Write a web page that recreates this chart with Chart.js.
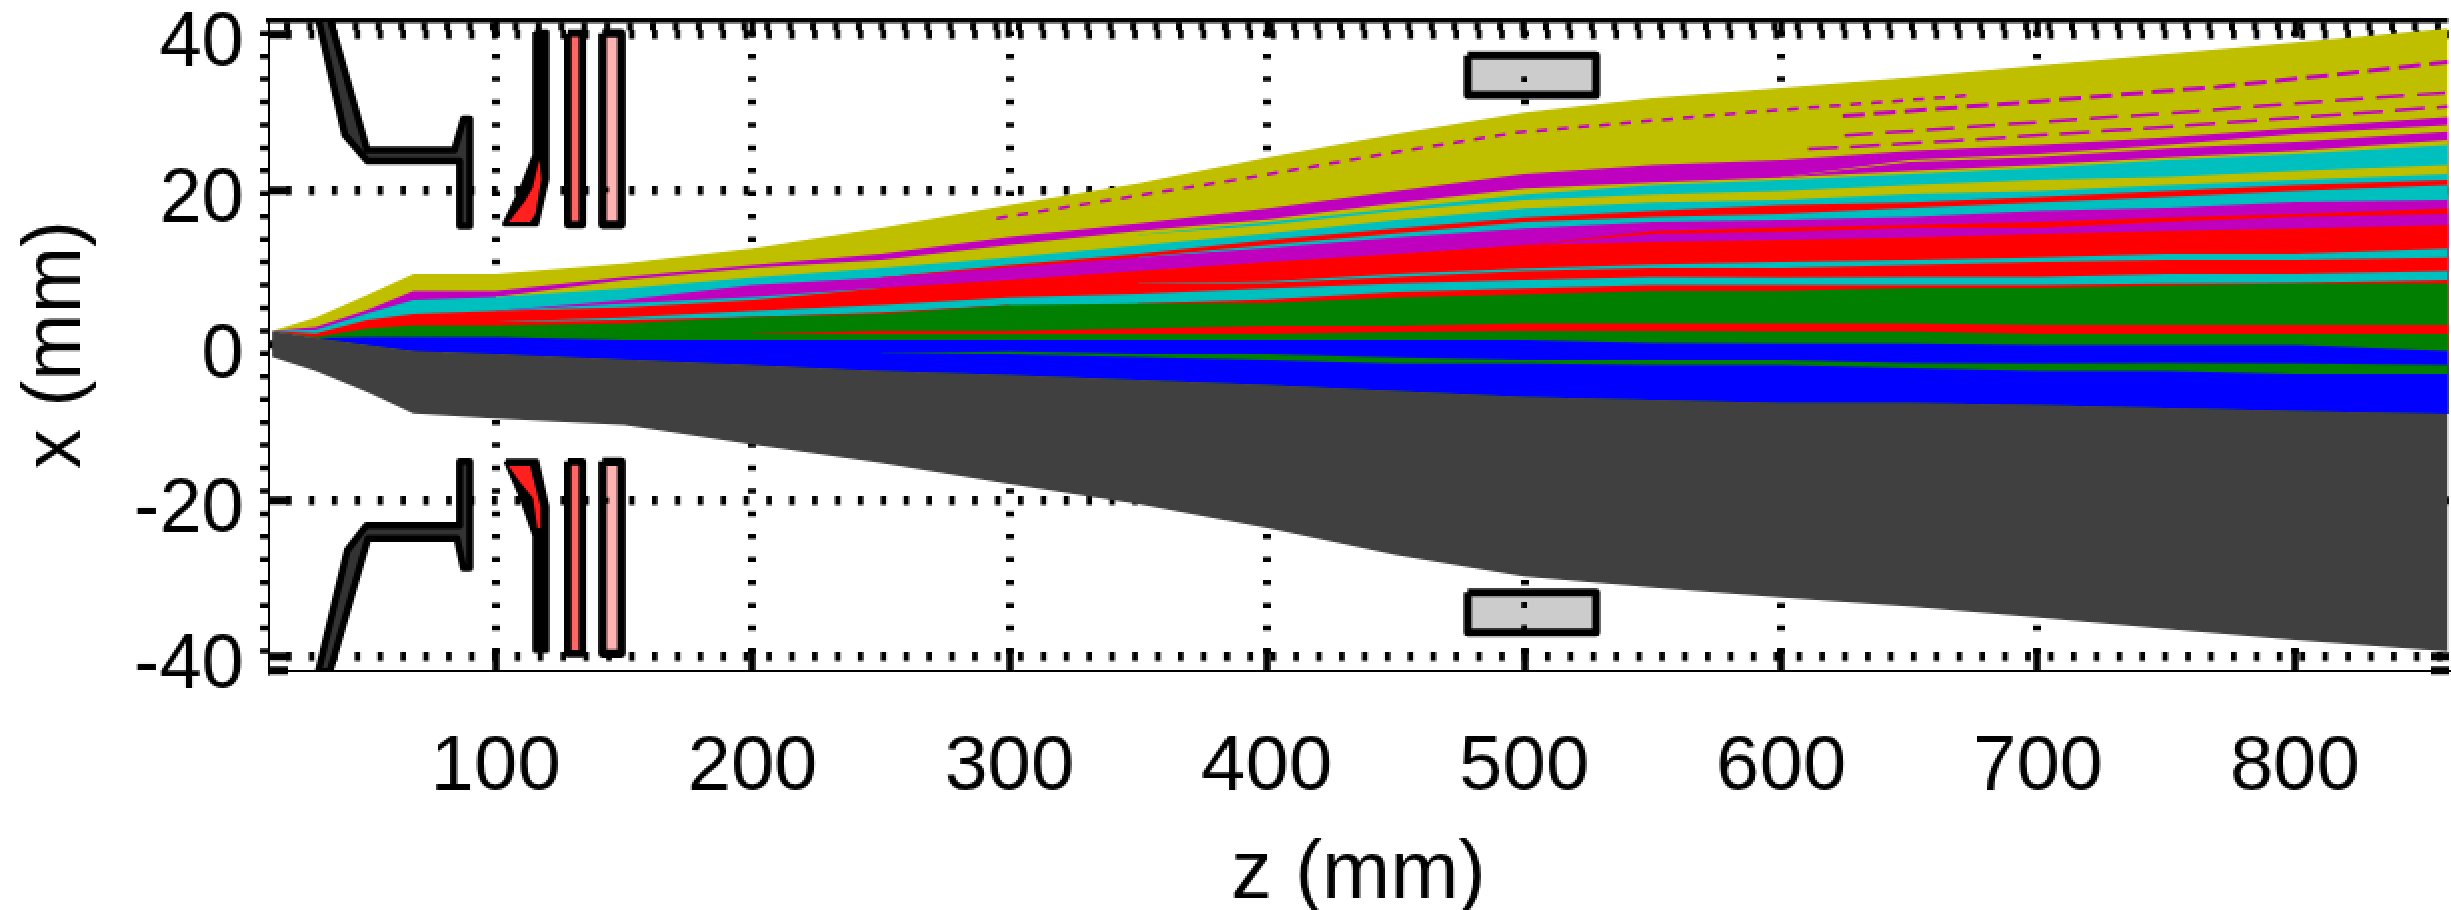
<!DOCTYPE html>
<html>
<head>
<meta charset="utf-8">
<title>Beam envelope</title>
<script src="https://cdn.jsdelivr.net/npm/chart.js@4/dist/chart.umd.min.js"></script>
<style>
  html, body { margin: 0; padding: 0; background: #fff; }
  canvas { display: block; image-rendering: pixelated; }
</style>
</head>
<body>
<canvas id="envelopeChart" width="2451" height="910" style="width:2451px;height:910px"></canvas>
<script>
// ---- Axis values ----
const zMin = 11.4, zMax = 859.6;
const xMin = -41.8, xMax = 41.9;
const zTicks = [100, 200, 300, 400, 500, 600, 700, 800];
const xLabelled = [-40, -20, 0, 20, 40];
const xTicks = [-41.8, -40, -20, 0, 20, 40];

// ---- Beam layers: top edge of each colour at zKnots, painted top layer first ----
const zKnots = [13, 30, 50, 68, 100, 150, 200, 250, 300, 350, 400, 450, 500, 550, 600, 650, 700, 750, 800, 860];
const oliveTop = [1.84, 3.56, 6.43, 9.13, 9.13, 10.5, 12.43, 15.05, 18.0, 20.8, 24.14, 27.14, 29.93, 31.8, 33.1, 34.43, 35.97, 37.43, 38.97, 40.73];
const purpleTop = [1.84, 2.32, 4.5, 6.95, 6.95, 8.75, 10.29, 11.7, 13.89, 15.65, 17.58, 19.81, 22.0, 23.15, 23.79, 24.95, 25.72, 26.71, 27.95, 29.36];
const oliveSplitTop = [1.84, 1.93, 4.07, 5.79, 6.17, 8.4, 9.9, 10.93, 12.86, 14.66, 16.17, 18.3, 20.15, 20.93, 21.57, 23.79, 24.57, 25.72, 27.14, 28.3];
const purpleSplitTop = [1.84, 1.93, 4.07, 5.79, 6.17, 8.4, 9.9, 10.93, 12.86, 14.66, 16.17, 18.3, 20.15, 20.93, 21.57, 23.54, 24.22, 25.3, 26.15, 27.52];
const oliveMidTop = [1.84, 1.93, 4.07, 5.79, 6.17, 8.4, 9.9, 10.93, 12.86, 14.66, 16.17, 18.3, 20.15, 20.93, 21.57, 22.42, 23.15, 24.14, 24.99, 26.37];
const cyanUpperTop = [1.84, 1.93, 4.07, 5.79, 6.17, 7.4, 8.9, 10.2, 11.6, 14.15, 15.86, 17.58, 19.38, 20.58, 21.22, 22.0, 22.8, 23.79, 24.57, 25.72];
const oliveLowTop = [1.84, 1.93, 4.07, 5.79, 6.17, 7.4, 8.9, 10.2, 11.6, 14.15, 15.43, 17.23, 18.65, 19.38, 19.81, 20.58, 21.22, 21.65, 22.38, 23.15];
const cyanMidTop = [1.84, 1.93, 4.07, 5.79, 6.17, 7.29, 8.7, 9.9, 11.28, 12.82, 14.37, 16.08, 17.58, 18.35, 18.65, 19.42, 19.81, 20.58, 21.22, 22.0];
const redUpperTop = [1.84, 1.48, 3.22, 3.99, 4.37, 5.79, 7.72, 8.7, 10.29, 11.7, 13.5, 15.0, 16.42, 17.23, 18.0, 18.35, 19.04, 19.81, 20.58, 21.22];
const cyanLowTop = [1.84, 1.48, 3.22, 3.99, 4.37, 5.79, 7.72, 8.7, 10.0, 11.28, 12.86, 14.37, 15.86, 16.5, 16.85, 17.66, 18.35, 19.04, 19.81, 20.58];
const purpleMidTop = [1.84, 1.48, 3.22, 3.99, 4.37, 5.79, 7.72, 8.7, 10.0, 11.28, 12.52, 13.85, 15.0, 15.86, 16.08, 16.5, 17.23, 17.66, 18.43, 18.65];
const redThinTop = [1.84, 1.48, 3.22, 3.99, 4.37, 5.36, 6.21, 7.37, 8.36, 9.52, 10.72, 11.7, 12.86, 14.66, 15.14, 15.43, 15.86, 16.42, 16.85, 17.58];
const purpleLowTop = [1.84, 1.48, 3.22, 3.99, 4.37, 5.36, 6.21, 7.37, 8.36, 9.52, 10.72, 11.7, 12.86, 14.28, 14.57, 15.09, 15.09, 15.86, 16.5, 16.85];
const cyanDashTop = [1.84, 1.48, 3.22, 3.99, 4.37, 5.36, 6.21, 7.37, 8.36, 9.52, 10.72, 11.7, 12.86, 13.29, 13.5, 13.85, 14.28, 14.66, 15.0, 15.43];
const redMainTop = [1.84, 1.48, 3.22, 3.99, 4.37, 4.84, 5.79, 7.37, 8.36, 9.52, 10.72, 11.7, 12.86, 13.29, 13.5, 13.85, 14.28, 14.66, 15.0, 15.43];
const cyanThinTop = [1.84, 1.03, 2.15, 2.53, 3.0, 3.9, 5.36, 6.0, 7.07, 7.93, 8.2, 9.13, 9.86, 10.38, 10.72, 10.93, 11.28, 11.7, 11.7, 12.44];
const redLowTop = [1.84, 1.03, 2.15, 2.53, 3.0, 3.9, 5.36, 6.0, 7.07, 7.93, 8.01, 8.79, 9.52, 9.94, 9.9, 10.29, 10.68, 10.93, 10.93, 11.28];
const cyanBaseTop = [1.84, 1.03, 2.15, 2.53, 3.0, 3.56, 4.37, 5.14, 6.13, 6.56, 7.29, 7.93, 8.36, 8.79, 8.7, 8.79, 8.75, 9.13, 9.13, 9.56];
const redBaseTop = [1.84, 1.03, 2.15, 2.53, 3.0, 3.22, 3.64, 4.2, 5.14, 5.36, 5.87, 6.86, 7.29, 7.72, 7.72, 7.72, 7.72, 7.93, 8.01, 8.36];
const greenMainTop = [1.84, 1.03, 2.15, 2.53, 2.53, 2.79, 3.64, 3.99, 5.14, 5.36, 5.44, 6.13, 6.52, 6.95, 6.95, 7.37, 7.37, 7.68, 7.93, 7.93];
const redCoreTop = [1.84, 0.95, 1.1, 1.1, 1.1, 1.1, 1.5, 1.8, 1.8, 2.15, 2.48, 2.48, 2.79, 2.79, 2.79, 2.79, 2.57, 2.57, 2.57, 2.57];
const greenCoreTop = [1.84, 0.95, 1.1, 1.1, 1.1, 1.1, 1.5, 1.46, 1.46, 1.41, 1.41, 1.71, 1.8, 1.8, 1.76, 1.76, 1.41, 1.41, 1.41, 1.41];
const blueUpperTop = [1.84, 0.9, 1.07, 1.03, 1.03, 0.68, 0.64, 0.64, 0.64, 0.64, 0.64, 0.64, 0.64, 0.3, 0.22, 0.22, 0, 0, 0, -0.77];
const greenDashTop = [1.84, 0.9, 0.5, 0, -0.2, -0.5, -0.86, -1.07, -0.81, -1.16, -1.16, -1.58, -1.93, -1.93, -1.93, -2.27, -2.35, -2.27, -2.35, -2.57];
const blueLowerTop = [1.84, 0.9, 0.5, 0, -0.2, -0.5, -0.86, -1.07, -1.16, -1.5, -1.93, -2.35, -2.35, -2.57, -2.57, -2.91, -3.3, -3.3, -3.73, -3.73];
const greyTop = [1.84, 0.9, 0, -0.77, -1.16, -1.84, -2.57, -3.34, -3.86, -4.5, -5.14, -5.92, -6.65, -7.07, -7.42, -7.46, -7.72, -8.06, -8.45, -8.84];
const greyBottom = [-1.5, -3.34, -6.0, -8.79, -9.43, -10.29, -12.77, -15.14, -17.88, -20.45, -23.5, -27.0, -29.8, -31.17, -32.45, -33.66, -35.02, -36.53, -37.94, -39.44];

// ---- Thin purple streaks inside the olive band ----
const streakAZ = [295, 391, 449, 497, 586, 673];
const streakAX = [16.3, 21.44, 24.78, 27.36, 29.93, 32.12];
const streakBZ = [624, 700.5, 769.8, 813.7, 859.6];
const streakBX = [29.49, 31.38, 33.22, 34.73, 36.44];
const streakCZ = [624.7, 692, 755.3, 799.6, 859.6];
const streakCX = [26.97, 28.51, 29.93, 31.09, 32.5];
const streakDZ = [610.5, 666.4, 734.8, 782.6, 859.6];
const streakDX = [25.21, 26.28, 27.74, 28.85, 30.7];

// ---- Detector outlines ----
const coneUpperZ = [31, 41.3, 50, 86, 86, 90, 90, 87.5, 84, 50, 35.5];
const coneUpperX = [42, 27.1, 23.7, 23.7, 15.3, 15.3, 29.1, 29.1, 25.1, 25.1, 42];
const coneLowerZ = [31, 42.3, 49.7, 86, 86, 90, 90, 87.5, 85, 50.3, 35.5];
const coneLowerX = [-42, -26.4, -23.2, -23.2, -15, -15, -28.7, -28.7, -24.9, -24.9, -42];
const plateUpperZ = [115.3, 120, 120, 116, 103.5, 110, 115.3];
const plateUpperX = [40.3, 40.3, 21.4, 15.6, 15.6, 20, 24.5];
const plateLowerZ = [104, 116, 120, 120, 115.3, 115.3, 110];
const plateLowerX = [-14.9, -14.9, -20.8, -39.3, -39.3, -24.5, -19.5];
const wedgeUpperZ = [117, 117.8, 115.5, 113.4, 105.2, 111.4, 114.5];
const wedgeUpperX = [23.8, 21.4, 16.85, 15.82, 15.82, 18.5, 20.26];
const wedgeLowerZ = [105.1, 113.4, 117.5, 117.5, 116.3, 114.6, 109.5];
const wedgeLowerX = [-15.56, -15.56, -20.8, -23.5, -23.5, -19.7, -17.58];
const stripNearZ = [128.1, 133.8, 133.8, 128.1];
const stripFarZ = [141.6, 149, 149, 141.6];
const stripUpperX = [40.1, 40.1, 15.5, 15.5];
const stripLowerX = [-15, -15, -39.7, -39.7];
const boxZ = [478, 528, 528, 478];
const boxUpperX = [37.3, 37.3, 32.2, 32.2];
const boxLowerX = [-31.8, -31.8, -37, -37];

// grid dots that sit on top of the detector pieces
const overlayDotZ = [500, 500, 500, 143, 143];
const overlayDotX = [34.2, -33.44, -36.4, 20, -20];

// frame rows of dots along the top and left edge
const topRowZ = [11.4, 859.6];
const topRowX = [41.03, 41.03];
const leftRowZ = [9.87, 9.87];
const leftRowX = [41.9, -41.8];

const COLORS = {
    olive: "#bfbf00",
    purple: "#bf00bf",
    cyan: "#00bfbf",
    red: "#ff0000",
    green: "#007f00",
    blue: "#0000ff",
    grey: "#404040",
    cone: "#333333",
    wedge: "#ff2020",
    stripNear: "#ff6666",
    stripFar: "#ffb3b3",
    box: "#cccccc",
    none: "rgba(0,0,0,0)",
};

function points(zs, xs) {
    return zs.map((z, i) => ({ x: z, y: xs[i] }));
}

// ---- Painted in this order; colour layers fill down to greyTop, grey fills down to greyBottom ----
const layerList = [
    [oliveTop, COLORS.olive], [purpleTop, COLORS.purple], [oliveSplitTop, COLORS.olive],
    [purpleSplitTop, COLORS.purple], [oliveMidTop, COLORS.olive], [cyanUpperTop, COLORS.cyan],
    [oliveLowTop, COLORS.olive], [cyanMidTop, COLORS.cyan], [redUpperTop, COLORS.red],
    [cyanLowTop, COLORS.cyan], [purpleMidTop, COLORS.purple], [redThinTop, COLORS.red],
    [purpleLowTop, COLORS.purple], [cyanDashTop, COLORS.cyan], [redMainTop, COLORS.red],
    [cyanThinTop, COLORS.cyan], [redLowTop, COLORS.red], [cyanBaseTop, COLORS.cyan],
    [redBaseTop, COLORS.red], [greenMainTop, COLORS.green], [redCoreTop, COLORS.red],
    [greenCoreTop, COLORS.green], [blueUpperTop, COLORS.blue], [greenDashTop, COLORS.green],
    [blueLowerTop, COLORS.blue],
];

const datasets = [];
// index 0 and 1 are the grey band: the other layers fill to index 1
datasets.push({
    data: points(zKnots, greyBottom),
    borderWidth: 0, borderColor: COLORS.none, pointRadius: 0, fill: false, order: 500,
});
datasets.push({
    data: points(zKnots, greyTop),
    borderWidth: 0, borderColor: COLORS.none, pointRadius: 0,
    backgroundColor: COLORS.grey, fill: 0, order: 300,
});
layerList.forEach(([vals, color], i) => {
    const next = layerList[i + 1] ? layerList[i + 1][0] : greyTop;
    datasets.push({
        data: points(zKnots, vals),
        borderWidth: 0, borderColor: COLORS.none, pointRadius: 0,
        backgroundColor: color,
        fill: 1,
        order: 400 - i,
        // a layer with no width over a span would only leave a hairline, skip it there
        segment: {
            backgroundColor: c => (vals[c.p0DataIndex] === next[c.p0DataIndex] && vals[c.p1DataIndex] === next[c.p1DataIndex]
                ? COLORS.none : color),
        },
    });
    // streaks sit directly above the olive top layer
    if (i === 0) {
        [[streakAZ, streakAX, 3, [11, 10]], [streakBZ, streakBX, 4, [22, 9]],
         [streakCZ, streakCX, 3, [28, 13]], [streakDZ, streakDX, 3, [30, 12]]].forEach(([zs, xs, w, dash], k) => {
            datasets.push({
                data: points(zs, xs),
                borderColor: COLORS.purple, borderWidth: w, borderDash: dash,
                pointRadius: 0, fill: false, order: 399.5 - k * 0.01,
            });
        });
    }
});

function shape(zs, xs, fillColor, lineWidth, order) {
    datasets.push({
        data: points(zs, xs).concat(points(zs.slice(0, 1), xs.slice(0, 1))),
        backgroundColor: fillColor,
        borderColor: lineWidth ? "#000000" : COLORS.none,
        borderWidth: lineWidth,
        borderJoinStyle: "round",
        pointRadius: 0,
        fill: "shape",
        order: order || 50,
    });
}

shape(coneUpperZ, coneUpperX, COLORS.cone, 7);
shape(coneLowerZ, coneLowerX, COLORS.cone, 7);
shape(plateUpperZ, plateUpperX, "#000000", 5);
shape(plateLowerZ, plateLowerX, "#000000", 5);
shape(wedgeUpperZ, wedgeUpperX, COLORS.wedge, 0, 40);
shape(wedgeLowerZ, wedgeLowerX, COLORS.wedge, 0, 40);
shape(stripNearZ, stripUpperX, COLORS.stripNear, 7.5);
shape(stripNearZ, stripLowerX, COLORS.stripNear, 7.5);
shape(stripFarZ, stripUpperX, COLORS.stripFar, 8.5);
shape(stripFarZ, stripLowerX, COLORS.stripFar, 8.5);
shape(boxZ, boxUpperX, COLORS.box, 8);
shape(boxZ, boxLowerX, COLORS.box, 8);

datasets.push({
    data: points(overlayDotZ, overlayDotX),
    showLine: false, pointStyle: "rect", pointRadius: 4,
    backgroundColor: "#000000", borderColor: "#000000", borderWidth: 0, order: 30,
});
datasets.push({
    data: points(topRowZ, topRowX),
    borderColor: "#000000", borderWidth: 8, borderDash: [6, 16.87], borderDashOffset: 6.77,
    pointRadius: 0, fill: false, order: 600,
});
datasets.push({
    data: points(leftRowZ, leftRowX),
    borderColor: "#000000", borderWidth: 8, borderDash: [5, 17.87], borderDashOffset: 11.37,
    pointRadius: 0, fill: false, order: 600, clip: false,
});

const TEXT_FONT = "'Liberation Sans', Arial, sans-serif";

// fixed frame: the scales report their own box and no label overhang
function fixBox(ax, w, h) {
    if (w !== null) ax.width = w;
    if (h !== null) ax.height = h;
    ax.paddingLeft = ax.paddingRight = ax.paddingTop = ax.paddingBottom = 0;
}

new Chart(document.getElementById("envelopeChart"), {
    type: "line",
    data: { datasets },
    options: {
        responsive: false,
        animation: false,
        devicePixelRatio: 1 / 2,
        layout: { padding: 0 },
        plugins: { legend: { display: false }, tooltip: { enabled: false }, title: { display: false } },
        elements: { line: { tension: 0 } },
        scales: {
            x: {
                type: "linear", min: zMin, max: zMax, position: "bottom",
                afterBuildTicks: ax => { ax.ticks = zTicks.map(v => ({ value: v })); },
                afterFit: ax => fixBox(ax, null, 240),
                border: { color: "#000", width: 2, dash: [5, 17.87], dashOffset: 11.37 },
                grid: { color: "#000", lineWidth: 8, tickColor: "#000", tickWidth: 7, tickLength: -22 },
                ticks: {
                    color: "#000", padding: 73, maxRotation: 0, autoSkip: false,
                    font: { family: TEXT_FONT, size: 78 },
                },
                title: {
                    display: true, text: "z (mm)", color: "#000",
                    font: { family: TEXT_FONT, size: 82, lineHeight: 1 }, padding: { top: 0, bottom: -6 },
                },
            },
            x2: {
                type: "linear", axis: "x", min: zMin, max: zMax, position: "top",
                afterBuildTicks: ax => { ax.ticks = zTicks.map(v => ({ value: v })); },
                afterFit: ax => fixBox(ax, null, 19.5),
                border: { color: "#000", width: 5 },
                grid: { drawOnChartArea: false, tickColor: "#000", tickWidth: 6, tickLength: -18 },
                ticks: { display: false },
            },
            y: {
                type: "linear", min: xMin, max: xMax, position: "left",
                afterBuildTicks: ax => { ax.ticks = xTicks.map(v => ({ value: v })); },
                afterFit: ax => fixBox(ax, 268, null),
                border: { color: "#000", width: 2, dash: [5.5, 17.37], dashOffset: 6.77 },
                grid: {
                    color: c => (c.tick && xLabelled.includes(c.tick.value) ? "#000" : COLORS.none),
                    lineWidth: 9, tickColor: "#000", tickWidth: 8, tickLength: -20,
                },
                ticks: {
                    color: "#000", padding: 44, labelOffset: 11, autoSkip: false,
                    font: { family: TEXT_FONT, size: 76 },
                    callback: v => (xLabelled.includes(v) ? String(v) : ""),
                },
                title: {
                    display: true, text: "x (mm)", color: "#000",
                    font: { family: TEXT_FONT, size: 80, lineHeight: 1 }, padding: { top: 18, bottom: 0 },
                },
            },
            y2: {
                type: "linear", axis: "y", min: xMin, max: xMax, position: "right",
                afterBuildTicks: ax => { ax.ticks = xTicks.map(v => ({ value: v })); },
                afterFit: ax => fixBox(ax, 0, null),
                border: { display: false },
                grid: { drawOnChartArea: false, tickColor: "#000", tickWidth: 8, tickLength: -17 },
                ticks: { display: false },
            },
        },
    },
});
</script>
</body>
</html>
